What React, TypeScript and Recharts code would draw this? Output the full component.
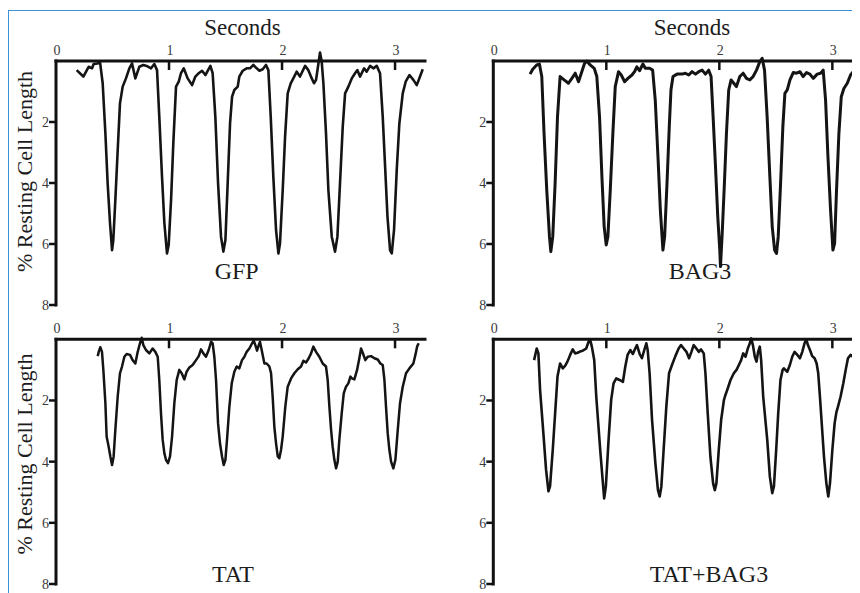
import React from 'react';
import { LineChart, Line, XAxis, YAxis } from 'recharts';

const SERIF = "'Liberation Serif', 'Times New Roman', Times, serif";

const secondsTicks = [0, 1, 2, 3];
const lengthTicks = [2, 4, 6, 8];
const panelNames = ['GFP', 'BAG3', 'TAT', 'TAT+BAG3'];
const xTitle = 'Seconds';
const yTitle = '% Resting Cell Length';

// [seconds, % resting cell length]
const gfpTrace: [number, number][] = [
  [0.183,0.30],[0.242,0.51],[0.289,0.19],[0.319,0.24],[0.333,0.10],[0.369,0.08],[0.389,0.02],[0.413,0.73],[0.437,2.37],[0.457,4.01],[0.478,5.32],[0.496,6.20],[0.507,5.87],[0.525,4.56],[0.546,2.92],[0.566,1.39],[0.59,0.84],[0.619,0.57],[0.649,0.24],[0.673,0.08],[0.702,0.57],[0.737,0.19],[0.773,0.13],[0.802,0.16],[0.841,0.24],[0.87,0.10],[0.894,0.30],[0.914,1.83],[0.938,3.79],[0.959,5.32],[0.982,6.31],[0.997,6.03],[1.018,4.56],[1.038,2.70],[1.062,0.84],[1.086,0.68],[1.106,0.40],[1.13,0.24],[1.165,0.57],[1.204,0.79],[1.233,0.51],[1.263,0.40],[1.292,0.32],[1.322,0.46],[1.366,0.16],[1.386,0.40],[1.41,1.83],[1.434,4.01],[1.46,5.76],[1.481,6.25],[1.499,5.87],[1.519,4.01],[1.54,2.05],[1.558,1.17],[1.578,0.95],[1.608,0.84],[1.622,0.51],[1.652,0.32],[1.687,0.24],[1.717,0.24],[1.746,0.13],[1.776,0.24],[1.8,0.32],[1.829,0.27],[1.858,0.13],[1.879,0.30],[1.9,1.83],[1.923,3.79],[1.947,5.54],[1.968,6.31],[1.982,5.98],[2.006,4.23],[2.027,2.48],[2.05,1.06],[2.077,0.73],[2.1,0.57],[2.13,0.35],[2.159,0.51],[2.204,0.16],[2.233,0.30],[2.263,0.57],[2.283,0.73],[2.301,0.62],[2.322,0.08],[2.336,-0.28],[2.351,0.02],[2.366,0.73],[2.389,2.37],[2.41,4.23],[2.44,5.76],[2.469,6.25],[2.49,5.76],[2.513,4.01],[2.537,2.16],[2.558,1.06],[2.587,0.84],[2.617,0.57],[2.646,0.40],[2.667,0.30],[2.69,0.51],[2.726,0.24],[2.749,0.35],[2.779,0.16],[2.808,0.24],[2.838,0.16],[2.867,0.40],[2.891,1.83],[2.912,3.46],[2.933,5.10],[2.956,6.20],[2.971,6.31],[2.991,5.54],[3.015,3.57],[3.038,2.05],[3.068,1.06],[3.094,0.68],[3.127,0.46],[3.162,0.62],[3.192,0.79],[3.221,0.51],[3.245,0.27]
];

const bag3Trace: [number, number][] = [
  [0.325,0.43],[0.349,0.27],[0.384,0.13],[0.408,0.10],[0.429,0.51],[0.449,2.37],[0.473,4.23],[0.497,5.76],[0.509,6.25],[0.526,5.76],[0.547,4.01],[0.568,1.83],[0.591,0.51],[0.627,0.62],[0.665,0.73],[0.695,0.57],[0.725,0.40],[0.754,0.68],[0.783,0.35],[0.807,0.08],[0.828,0.0],[0.857,0.13],[0.893,0.24],[0.916,0.51],[0.94,1.83],[0.961,3.79],[0.981,5.43],[0.999,6.03],[1.014,5.76],[1.035,4.23],[1.058,2.37],[1.079,0.84],[1.108,0.35],[1.132,0.46],[1.162,0.68],[1.191,0.57],[1.227,0.46],[1.25,0.35],[1.27,0.19],[1.294,0.32],[1.324,0.10],[1.345,0.24],[1.383,0.24],[1.41,0.30],[1.433,1.28],[1.457,3.13],[1.478,4.88],[1.501,6.20],[1.516,5.76],[1.537,4.01],[1.557,2.16],[1.572,0.95],[1.59,0.51],[1.626,0.43],[1.67,0.43],[1.699,0.40],[1.729,0.46],[1.759,0.35],[1.789,0.43],[1.818,0.35],[1.848,0.30],[1.877,0.43],[1.906,0.30],[1.927,0.51],[1.945,1.83],[1.966,3.46],[1.986,5.10],[2.004,6.20],[2.01,6.74],[2.024,5.76],[2.045,4.01],[2.063,2.37],[2.083,0.95],[2.104,0.62],[2.128,0.73],[2.151,0.84],[2.181,0.51],[2.211,0.40],[2.24,0.57],[2.27,0.62],[2.299,0.51],[2.329,0.30],[2.358,0.02],[2.379,-0.09],[2.4,0.30],[2.423,1.83],[2.447,3.79],[2.468,5.43],[2.489,6.20],[2.506,6.31],[2.521,5.76],[2.542,4.01],[2.562,2.16],[2.58,1.06],[2.601,0.95],[2.625,0.62],[2.654,0.38],[2.683,0.40],[2.713,0.35],[2.742,0.51],[2.772,0.38],[2.801,0.43],[2.831,0.57],[2.866,0.43],[2.896,0.40],[2.919,0.30],[2.94,1.28],[2.961,3.13],[2.984,4.88],[3.005,6.20],[3.02,5.98],[3.037,4.23],[3.058,2.37],[3.079,1.17],[3.102,0.90],[3.132,0.73],[3.161,0.46],[3.185,0.35],[3.214,0.51],[3.25,0.38],[3.28,0.45]
];

const tatTrace: [number, number][] = [
  [0.369,0.55],[0.378,0.41],[0.392,0.26],[0.407,0.41],[0.419,1.0],[0.437,2.09],[0.448,3.18],[0.466,3.51],[0.481,3.83],[0.496,4.11],[0.51,3.83],[0.525,2.96],[0.546,1.87],[0.566,1.11],[0.584,0.89],[0.605,0.57],[0.625,0.48],[0.655,0.51],[0.678,0.68],[0.702,0.79],[0.723,0.41],[0.743,0.13],[0.758,-0.05],[0.773,0.19],[0.796,0.35],[0.826,0.46],[0.855,0.30],[0.879,0.41],[0.9,0.57],[0.914,1.33],[0.929,2.42],[0.944,3.29],[0.959,3.73],[0.973,3.94],[0.991,4.05],[1.009,3.83],[1.027,3.18],[1.047,2.09],[1.068,1.33],[1.091,1.0],[1.112,1.11],[1.136,1.31],[1.156,1.06],[1.18,0.92],[1.209,0.84],[1.239,0.68],[1.263,0.55],[1.283,0.33],[1.304,0.46],[1.327,0.57],[1.351,0.35],[1.372,0.08],[1.386,0.13],[1.401,0.57],[1.416,1.33],[1.434,2.75],[1.451,3.40],[1.469,3.83],[1.484,4.11],[1.499,3.94],[1.513,3.29],[1.534,2.20],[1.555,1.44],[1.578,1.06],[1.599,0.89],[1.622,0.95],[1.646,0.68],[1.667,0.57],[1.687,0.41],[1.711,0.30],[1.735,0.13],[1.749,0.04],[1.764,0.19],[1.779,0.37],[1.794,0.19],[1.805,0.08],[1.823,0.41],[1.844,0.79],[1.864,0.79],[1.888,0.89],[1.903,1.11],[1.917,1.87],[1.932,2.86],[1.947,3.40],[1.962,3.83],[1.976,3.89],[1.991,3.62],[2.006,3.18],[2.029,2.20],[2.05,1.55],[2.08,1.28],[2.109,1.11],[2.139,0.98],[2.168,0.89],[2.189,0.70],[2.212,0.76],[2.236,0.62],[2.257,0.46],[2.277,0.24],[2.301,0.41],[2.33,0.57],[2.36,0.79],[2.389,0.89],[2.404,1.33],[2.419,2.20],[2.434,2.96],[2.448,3.51],[2.463,3.94],[2.478,4.22],[2.493,4.0],[2.507,3.29],[2.528,2.42],[2.546,1.77],[2.566,1.55],[2.587,1.44],[2.605,1.22],[2.619,1.28],[2.64,1.31],[2.664,1.0],[2.684,0.62],[2.699,0.30],[2.714,0.44],[2.737,0.68],[2.758,0.57],[2.788,0.55],[2.817,0.62],[2.847,0.66],[2.87,0.79],[2.891,0.84],[2.906,1.33],[2.92,2.20],[2.935,3.07],[2.95,3.62],[2.965,4.0],[2.985,4.22],[3.003,3.94],[3.024,2.96],[3.044,2.09],[3.068,1.55],[3.097,1.11],[3.127,0.95],[3.162,0.79],[3.18,0.51],[3.195,0.24],[3.209,0.13]
];

const tatBag3Trace: [number, number][] = [
  [0.361,0.68],[0.384,0.30],[0.399,0.46],[0.414,1.66],[0.443,3.07],[0.467,4.27],[0.488,4.97],[0.502,4.81],[0.526,3.62],[0.547,2.42],[0.568,1.22],[0.591,0.79],[0.615,0.95],[0.635,0.87],[0.656,0.73],[0.68,0.51],[0.703,0.33],[0.724,0.46],[0.745,0.44],[0.763,0.41],[0.792,0.37],[0.822,0.30],[0.843,0.08],[0.857,0.02],[0.872,0.24],[0.893,0.68],[0.911,1.87],[0.946,3.62],[0.97,4.71],[0.981,5.2],[0.996,4.81],[1.02,3.29],[1.043,1.98],[1.064,1.44],[1.088,1.28],[1.117,1.33],[1.147,1.39],[1.168,0.89],[1.188,0.51],[1.212,0.35],[1.235,0.48],[1.256,0.30],[1.271,0.19],[1.295,0.48],[1.315,0.62],[1.336,0.35],[1.354,0.13],[1.366,0.35],[1.383,1.11],[1.404,2.6],[1.434,4.05],[1.457,4.93],[1.472,5.14],[1.487,4.81],[1.507,3.62],[1.531,2.2],[1.555,1.11],[1.581,0.84],[1.611,0.55],[1.64,0.30],[1.661,0.19],[1.685,0.30],[1.709,0.41],[1.732,0.62],[1.753,0.41],[1.773,0.19],[1.797,0.30],[1.818,0.41],[1.838,0.33],[1.862,0.46],[1.877,1.11],[1.897,2.4],[1.921,3.84],[1.945,4.71],[1.96,4.93],[1.974,4.71],[1.995,3.62],[2.016,2.64],[2.04,2.0],[2.054,1.82],[2.075,1.6],[2.099,1.33],[2.128,1.11],[2.152,1.0],[2.173,0.84],[2.193,0.68],[2.211,0.46],[2.232,0.57],[2.252,0.30],[2.27,0.13],[2.282,-0.03],[2.297,0.19],[2.314,0.57],[2.329,0.73],[2.343,0.41],[2.358,0.24],[2.37,0.68],[2.388,1.87],[2.424,3.29],[2.447,4.49],[2.468,5.03],[2.483,4.81],[2.503,3.62],[2.521,2.42],[2.541,1.33],[2.56,1.0],[2.571,0.95],[2.601,1.06],[2.624,0.84],[2.645,0.57],[2.666,0.41],[2.69,0.51],[2.713,0.62],[2.734,0.41],[2.754,0.13],[2.769,0.0],[2.784,0.19],[2.802,0.35],[2.822,0.55],[2.843,0.62],[2.861,0.79],[2.875,1.11],[2.89,1.87],[2.926,3.84],[2.947,4.71],[2.964,5.14],[2.979,4.71],[3.0,3.62],[3.02,2.75],[3.035,2.4],[3.05,2.2],[3.073,1.87],[3.097,1.44],[3.118,1.0],[3.138,0.62],[3.162,0.51],[3.186,0.59],[3.215,0.62],[3.245,0.66],[3.28,0.66]
];

const toRows = (trace: [number, number][]) => trace.map(([t, v]) => ({ t, v }));

const AXIS_COLOR = '#111';
const TEXT_COLOR = '#1c1c1c';
const TICK_TEXT = '#3a3a3a';

const XTick = (props: any) => {
  const { x, y, payload } = props;
  return (
    <g>
      <text x={x + 1} y={y - 6} textAnchor="middle" fontFamily={SERIF} fontSize={14} fill={TICK_TEXT}>
        {payload.value}
      </text>
      {payload.value !== 0 && (
        <line x1={x} y1={y} x2={x} y2={y + 9} stroke={AXIS_COLOR} strokeWidth={2.5} />
      )}
    </g>
  );
};

const YTick = (props: any) => {
  const { x, y, payload } = props;
  return (
    <g>
      <line x1={x - 7} y1={y} x2={x} y2={y} stroke={AXIS_COLOR} strokeWidth={2.5} />
      <text x={x - 7} y={y} dy="0.35em" textAnchor="end" fontFamily={SERIF} fontSize={14} fill={TICK_TEXT}>
        {payload.value}
      </text>
    </g>
  );
};

type PanelProps = {
  trace: [number, number][];
  left: number;
  top: number;
  width: number;
  height: number;
  plotLeft: number;
  plotTop: number;
  plotW: number;
  plotH: number;
  lineWidth: number;
  children?: React.ReactNode;
};

const XH = 20;

function Panel({ trace, left, top, width, height, plotLeft, plotTop, plotW, plotH, lineWidth, children }: PanelProps) {
  const axisLine = { stroke: AXIS_COLOR, strokeWidth: 3, strokeLinecap: 'square' as const };
  return (
    <div style={{ position: 'absolute', left, top, width, height }}>
      <LineChart
        width={width}
        height={height}
        data={toRows(trace)}
        margin={{ top: plotTop - XH, left: 0, right: width - plotLeft - plotW, bottom: height - plotTop - plotH }}
      >
        <XAxis
          type="number"
          dataKey="t"
          orientation="top"
          domain={[0, 3.265]}
          allowDataOverflow
          ticks={secondsTicks}
          interval={0}
          height={XH}
          tickSize={0}
          tickMargin={0}
          tickLine={false}
          axisLine={axisLine}
          tick={<XTick />}
        />
        <YAxis
          type="number"
          reversed
          domain={[0, 8]}
          allowDataOverflow
          ticks={lengthTicks}
          interval={0}
          width={plotLeft}
          tickSize={0}
          tickMargin={0}
          tickLine={false}
          axisLine={axisLine}
          tick={<YTick />}
        />
        <Line
          type="linear"
          dataKey="v"
          stroke="#141414"
          strokeWidth={lineWidth}
          strokeLinejoin="round"
          dot={false}
          activeDot={false}
          isAnimationActive={false}
        />
        {children}
      </LineChart>
    </div>
  );
}

const titleStyle = { fontFamily: SERIF, fill: TEXT_COLOR } as const;

export default function App() {
  return (
    <div style={{ position: 'relative', width: 852, height: 585, overflow: 'hidden', background: '#fff' }}>
      <style>{`.recharts-wrapper [clip-path]{clip-path:none !important;}`}</style>
      <div
        style={{
          position: 'absolute',
          left: 0,
          top: 2,
          width: 1000,
          height: 1000,
          borderTop: '1.5px solid #3f91d6',
          borderLeft: '1.5px solid #3f91d6',
        }}
      />
      <Panel trace={gfpTrace} left={0} top={0} width={430} height={307} plotLeft={48} plotTop={53} plotW={369} plotH={244} lineWidth={2.6}>
        <text x={234.5} y={27} textAnchor="middle" fontSize={23} {...titleStyle}>{xTitle}</text>
        <text x={23.5} y={163.5} textAnchor="middle" fontSize={22} transform="rotate(-90 23.5 163.5)" {...titleStyle}>{yTitle}</text>
        <text x={228.7} y={271} textAnchor="middle" fontSize={24} {...titleStyle}>{panelNames[0]}</text>
      </Panel>
      <Panel trace={bag3Trace} left={430} top={0} width={440} height={307} plotLeft={55.3} plotTop={53} plotW={369} plotH={244} lineWidth={3}>
        <text x={254} y={27} textAnchor="middle" fontSize={23} {...titleStyle}>{xTitle}</text>
        <text x={262} y={271} textAnchor="middle" fontSize={24} {...titleStyle}>{panelNames[1]}</text>
      </Panel>
      <Panel trace={tatTrace} left={0} top={302} width={430} height={284} plotLeft={48} plotTop={29.3} plotW={369} plotH={244.7} lineWidth={2.5}>
        <text x={23.5} y={144} textAnchor="middle" fontSize={22} transform="rotate(-90 23.5 144)" {...titleStyle}>{yTitle}</text>
        <text x={225} y={272} textAnchor="middle" fontSize={24} {...titleStyle}>{panelNames[2]}</text>
      </Panel>
      <Panel trace={tatBag3Trace} left={430} top={302} width={440} height={284} plotLeft={55.3} plotTop={29.3} plotW={369} plotH={244.7} lineWidth={2.6}>
        <text x={271} y={272} textAnchor="middle" fontSize={24} {...titleStyle}>{panelNames[3]}</text>
      </Panel>
    </div>
  );
}
